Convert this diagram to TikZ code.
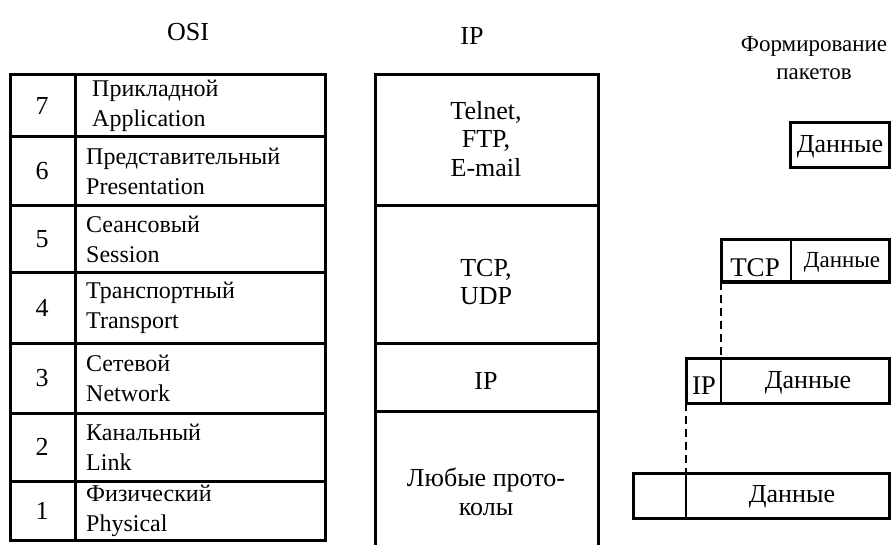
\documentclass[tikz,border=0pt]{standalone}
\usepackage{fontspec}
\setmainfont{Liberation Serif}
\begin{document}
\begin{tikzpicture}[x=1pt,y=-1pt,
  frame/.style={line width=3pt},
  divline/.style={line width=1.5pt},
  numlbl/.style={inner sep=0pt, font=\fontsize{26}{30}\selectfont},
  layer/.style={inner sep=0pt, anchor=west, align=left, font=\fontsize{24}{30}\selectfont},
  ipcell/.style={inner sep=0pt, align=center, font=\fontsize{26}{28.5}\selectfont},
  pkt/.style={inner sep=0pt, font=\fontsize{26}{30}\selectfont},
  title/.style={inner sep=0pt, font=\fontsize{26}{30}\selectfont},
  link/.style={line width=2pt, dash pattern=on 8pt off 5pt}]
\useasboundingbox (0,0) rectangle (891,545);

% titles
\node[title] (tosi) at (188,32) {OSI};
\node[title] (tip) at (472,36) {IP};
\node[inner sep=0pt, align=center, font=\fontsize{23}{28}\selectfont] (tpk) at (814,58) {Формирование\\пакетов};

% OSI table
\draw[frame] (10,75) rectangle (325,540);
\draw[frame] (75,75) -- (75,540);
\foreach \yy in {137,206,273,343,413,481} \draw[frame] (10,\yy) -- (325,\yy);

\node[numlbl] (n7) at (42,106) {7};
\node[numlbl] (n6) at (42,171.5) {6};
\node[numlbl] (n5) at (42,239.5) {5};
\node[numlbl] (n4) at (42,308) {4};
\node[numlbl] (n3) at (42,378) {3};
\node[numlbl] (n2) at (42,447) {2};
\node[numlbl] (n1) at (42,510.5) {1};

\node[layer] (l7) at (92,106) {Прикладной\\Application};
\node[layer] (l6) at (86,171.5) {Представительный\\Presentation};
\node[layer] (l5) at (86,239.5) {Сеансовый\\Session};
\node[layer] (l4) at (86,308) {Транспортный\\Transport};
\node[layer] (l3) at (86,378) {Сетевой\\Network};
\node[layer] (l2) at (86,447) {Канальный\\Link};
\node[layer] (l1) at (86,510.5) {Физический\\Physical};

% IP column
\draw[frame] (375,545) -- (375,75) -- (598,75) -- (598,545);
\foreach \yy in {206,343,411} \draw[frame] (375,\yy) -- (598,\yy);

\node[ipcell] (app) at (486,139) {Telnet,\\FTP,\\E-mail};
\node[ipcell] (tcpudp) at (486,282) {TCP,\\UDP};
\node[ipcell] (ipl) at (486,381) {IP};
\node[ipcell] (any) at (486,492) {Любые прото-\\колы};

% packets
\draw[frame] (790,123) rectangle (889,168);
\node[pkt] (d1) at (840,147) {Данные};

\draw[frame] (721,240) rectangle (889,282);
\draw[line width=2pt] (791,240) -- (791,282);
\node[pkt, font=\fontsize{27}{30}\selectfont] (tcp) at (755,268) {TCP};
\node[pkt, font=\fontsize{23}{30}\selectfont] (d2) at (842,262) {Данные};

\draw[frame] (686,358) rectangle (889,403);
\draw[divline] (721,358) -- (721,403);
\node[pkt, font=\fontsize{27}{30}\selectfont] (ip) at (704,386) {IP};
\node[pkt] (d3) at (808,383) {Данные};

\draw[frame] (633,473) rectangle (889,518);
\draw[divline] (686,473) -- (686,518);
\node[pkt] (d4) at (792,497) {Данные};

% dashed links
\coordinate (c2) at (721,282);
\coordinate (c3) at (721,358);
\coordinate (c4) at (686,403);
\coordinate (c5) at (686,473);
\draw[link] (c2) -- (c3);
\draw[link] (c4) -- (c5);
\end{tikzpicture}
\end{document}
